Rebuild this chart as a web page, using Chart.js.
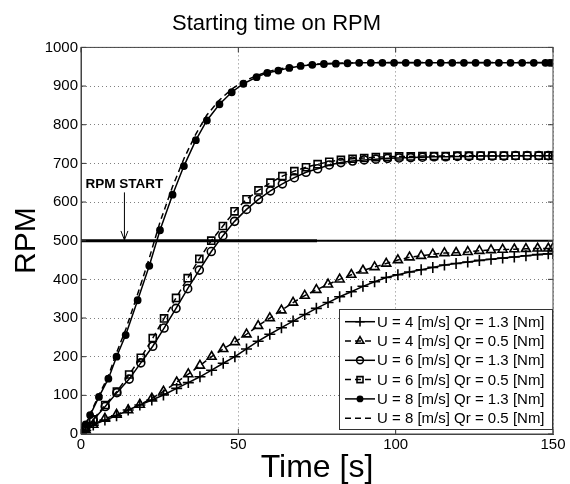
<!DOCTYPE html>
<html lang="en">
<head>
<meta charset="UTF-8">
<title>Starting time on RPM</title>
<style>
    html, body { margin: 0; padding: 0; background: #fff; }
    .chart-box { position: relative; width: 570px; height: 484px; }
</style>
</head>
<body>
<div class="chart-box"><canvas id="rpmChart"></canvas></div>
<script src="https://cdn.jsdelivr.net/npm/chart.js"></script>
<script>
// values (time in s, speed in RPM)
const timeU4 = [0, 1.5, 3.9, 7.6, 11.3, 15, 18.7, 22.5, 26.2, 30.4, 34.1, 37.8, 41.5, 45.2, 48.9, 52.6, 56.3, 60, 63.7, 67.4,
    71.1, 74.8, 78.5, 82.2, 85.9, 89.6, 93.3, 97, 100.7, 104.4, 108.1, 111.8, 115.5, 119.2, 122.9, 126.6, 130.3, 134, 137.7, 141.4,
    145.1, 148.5, 150];
const rpmU4Qr13 = [0, 9, 23, 36, 47, 62, 75, 88, 101, 118, 133, 148, 165, 183, 200, 220, 240, 258, 275, 292,
    309, 325, 340, 355, 368, 382, 394, 405, 412, 419, 425, 431, 437, 441, 445, 449, 452, 455, 458, 461,
    464, 466, 467];
const rpmU4Qr05 = [0, 10, 24, 40, 50, 62, 76, 92, 110, 134, 155, 177, 200, 220, 238, 258, 280, 300, 320, 340,
    358, 373, 387, 400, 412, 423, 432, 441, 450, 457, 461, 465, 468, 469, 471, 474, 476, 477, 478, 479,
    480, 480, 481];

const timeU6 = [0, 1.5, 3.9, 7.7, 11.4, 15.3, 19, 22.8, 26.4, 30.2, 33.9, 37.6, 41.4, 45.1, 48.8, 52.6, 56.4, 60.2, 64, 67.8,
    71.5, 75.2, 78.9, 82.6, 86.3, 90, 93.7, 97.4, 101.1, 104.8, 108.5, 112.2, 115.9, 119.6, 123.3, 127, 130.7, 134.4, 138.1, 141.8,
    145.5, 148.5, 150];
const rpmU6Qr13 = [0, 14, 36, 71, 107, 142, 184, 227, 274, 325, 376, 424, 472, 513, 550, 581, 607, 629, 647, 663,
    677, 686, 696, 702, 706, 709, 711, 713, 714, 715, 716, 717, 717, 718, 718, 719, 719, 719, 720, 720,
    720, 720, 720];
const rpmU6Qr05 = [0, 15, 38, 75, 110, 154, 197, 248, 299, 352, 403, 453, 500, 538, 576, 607, 630, 650, 667, 680,
    690, 698, 704, 709, 712, 714, 716, 717, 718, 718, 719, 719, 719, 720, 720, 720, 720, 720, 720, 720,
    720, 720, 720];

const timeU8 = [0, 1.5, 2.9, 5.7, 8.7, 11.3, 14.2, 18, 21.7, 25.1, 29.1, 32.7, 36.5, 40, 44, 47.9, 51.6, 55.8, 59.2, 62.7,
    66.2, 69.8, 73.5, 77.2, 81, 84.7, 88.4, 92.1, 95.8, 99.5, 103.2, 106.9, 110.6, 114.3, 118, 121.7, 125.4, 129.1, 132.8, 136.5,
    140.2, 143.9, 147.6, 149, 150];
const rpmU8Qr13 = [0, 25, 49, 96, 143, 200, 256, 346, 435, 527, 619, 693, 760, 811, 853, 884, 906, 923, 934, 940,
    947, 952, 955, 957, 958, 959, 960, 960, 960, 960, 960, 960, 960, 960, 960, 960, 960, 960, 960, 960,
    960, 960, 960, 960, 960];
const rpmU8Qr05 = [0, 26, 52, 101, 150, 210, 270, 362, 455, 548, 640, 712, 776, 825, 864, 892, 912, 927, 937, 944,
    949, 953, 956, 958, 959, 960, 961, 961, 961, 961, 961, 961, 961, 961, 961, 961, 961, 961, 961, 961,
    961, 961, 961, 961, 961];

const seriesLabels = [
    'U = 4 [m/s] Qr = 1.3 [Nm]',
    'U = 4 [m/s] Qr = 0.5 [Nm]',
    'U = 6 [m/s] Qr = 1.3 [Nm]',
    'U = 6 [m/s] Qr = 0.5 [Nm]',
    'U = 8 [m/s] Qr = 1.3 [Nm]',
    'U = 8 [m/s] Qr = 0.5 [Nm]'
];

// RPM START level: drawn heavy up to 75 s, lighter after
const rpmStart = 500;
const startTimesHeavy = [0, 75];
const startTimesLight = [75, 150];
const annotText = 'RPM START';
const annotTime = 13.8;
const annotTextRpm = 647;
const arrowFromRpm = 625;
const arrowToRpm = 502;

const xTicks = [0, 50, 100, 150];
const yTicks = [0, 100, 200, 300, 400, 500, 600, 700, 800, 900, 1000];

const FONT = '"Liberation Sans", Arial, Helvetica, sans-serif';
Chart.defaults.font.family = FONT;
Chart.defaults.color = '#000';

function pts(times, vals) {
    return times.map((t, i) => ({ x: t, y: vals[i] }));
}

const clear = 'rgba(0,0,0,0)';
const base = {
    showLine: true, borderColor: '#000', borderWidth: 1.5, tension: 0,
    pointBorderColor: '#000', pointBackgroundColor: clear, pointBorderWidth: 1.6, pointHoverRadius: 0
};

const datasets = [
    { ...base, label: seriesLabels[0], data: pts(timeU4, rpmU4Qr13), pointStyle: 'cross', pointRadius: 5.5 },
    { ...base, label: seriesLabels[1], data: pts(timeU4, rpmU4Qr05), borderDash: [6, 4], pointStyle: 'triangle', pointRadius: 5.2 },
    { ...base, label: seriesLabels[2], data: pts(timeU6, rpmU6Qr13), pointStyle: 'circle', pointRadius: 4 },
    { ...base, label: seriesLabels[3], data: pts(timeU6, rpmU6Qr05), borderDash: [6, 4], pointStyle: 'rect', pointRadius: 5 },
    { ...base, label: seriesLabels[4], data: pts(timeU8, rpmU8Qr13), pointStyle: 'circle', pointRadius: 3.1, pointBackgroundColor: '#000' },
    { ...base, label: seriesLabels[5], data: pts(timeU8, rpmU8Qr05), borderDash: [6, 4], pointRadius: 0 },
    { ...base, label: 'start', data: startTimesHeavy.map(t => ({ x: t, y: rpmStart })), borderWidth: 3, pointRadius: 0 },
    { ...base, label: 'start2', data: startTimesLight.map(t => ({ x: t, y: rpmStart })), borderWidth: 2, pointRadius: 0 }
];

// frame, inner ticks, annotation and in-plot legend
const plotFrame = {
    id: 'plotFrame',
    afterDraw(chart) {
        const { ctx, chartArea: a, scales: { x, y } } = chart;
        ctx.save();
        ctx.strokeStyle = '#333';
        ctx.lineWidth = 1;
        ctx.beginPath();
        yTicks.forEach(v => {
            const py = y.getPixelForValue(v);
            ctx.moveTo(a.left, py); ctx.lineTo(a.left + 5, py);
            ctx.moveTo(a.right, py); ctx.lineTo(a.right - 5, py);
        });
        xTicks.forEach(v => {
            const px = x.getPixelForValue(v);
            ctx.moveTo(px, a.bottom); ctx.lineTo(px, a.bottom - 5);
            ctx.moveTo(px, a.top); ctx.lineTo(px, a.top + 5);
        });
        ctx.stroke();
        ctx.strokeStyle = '#444';
        ctx.strokeRect(a.left, a.top, a.right - a.left, a.bottom - a.top);

        // RPM START annotation
        const ax = x.getPixelForValue(annotTime);
        ctx.fillStyle = '#000';
        ctx.font = 'bold 13.5px ' + FONT;
        ctx.textAlign = 'center';
        ctx.textBaseline = 'middle';
        ctx.fillText(annotText, ax, y.getPixelForValue(annotTextRpm));
        const y0 = y.getPixelForValue(arrowFromRpm), y1 = y.getPixelForValue(arrowToRpm);
        ctx.strokeStyle = '#000';
        ctx.lineWidth = 1;
        ctx.beginPath();
        ctx.moveTo(ax, y0); ctx.lineTo(ax, y1);
        ctx.moveTo(ax - 3.5, y1 - 9); ctx.lineTo(ax, y1); ctx.lineTo(ax + 3.5, y1 - 9);
        ctx.stroke();

        // legend box
        const lw = 214, lh = 121;
        const lx = a.right - lw, ly = a.bottom - 4 - lh;
        ctx.fillStyle = '#fff';
        ctx.fillRect(lx, ly, lw, lh);
        ctx.strokeStyle = '#333';
        ctx.strokeRect(lx + 0.5, ly + 0.5, lw - 1, lh - 1);
        ctx.font = '15px ' + FONT;
        ctx.textAlign = 'left';
        chart.data.datasets.slice(0, 6).forEach((ds, i) => {
            const cy = ly + 12.7 + i * 19.3;
            ctx.setLineDash(ds.borderDash || []);
            ctx.strokeStyle = ds.borderColor;
            ctx.lineWidth = ds.borderWidth;
            ctx.beginPath();
            ctx.moveTo(lx + 6, cy); ctx.lineTo(lx + 36, cy);
            ctx.stroke();
            ctx.setLineDash([]);
            if (ds.pointRadius > 0) {
                ctx.fillStyle = ds.pointBackgroundColor;
                ctx.strokeStyle = ds.pointBorderColor;
                ctx.lineWidth = ds.pointBorderWidth;
                Chart.helpers.drawPoint(ctx, {
                    pointStyle: ds.pointStyle, radius: ds.pointRadius * 0.85, rotation: 0, borderWidth: ds.pointBorderWidth
                }, lx + 21, cy);
            }
            ctx.fillStyle = '#000';
            ctx.fillText(ds.label, lx + 38, cy + 1);
        });
        ctx.restore();
    }
};

new Chart(document.getElementById('rpmChart'), {
    type: 'scatter',
    data: { datasets },
    options: {
        responsive: true,
        maintainAspectRatio: false,
        animation: false,
        layout: { padding: { left: 0, right: 17, top: 0, bottom: 0 } },
        plugins: {
            legend: { display: false },
            tooltip: { enabled: false },
            title: {
                display: true,
                text: 'Starting time on RPM',
                color: '#000',
                font: { size: 22, weight: 'normal', lineHeight: 1.2 },
                padding: { top: 11, bottom: 10 }
            }
        },
        scales: {
            x: {
                type: 'linear', min: 0, max: 150,
                afterBuildTicks: s => { s.ticks = xTicks.map(v => ({ value: v })); },
                afterFit: s => { s.height = 50; },
                ticks: { font: { size: 15 }, color: '#000', padding: 2, maxRotation: 0, callback: v => String(v) },
                grid: { color: '#808080', lineWidth: 1, drawTicks: false },
                border: { display: true, color: '#444', dash: [1, 3] },
                title: { display: true, text: 'Time [s]', color: '#000', font: { size: 32, lineHeight: 1 }, padding: 0 }
            },
            y: {
                type: 'linear', min: 0, max: 1000,
                afterBuildTicks: s => { s.ticks = yTicks.map(v => ({ value: v })); },
                afterFit: s => { s.width = 81; },
                ticks: { font: { size: 15 }, color: '#000', padding: 3, callback: v => String(v) },
                grid: { color: '#808080', lineWidth: 1, drawTicks: false },
                border: { display: true, color: '#444', dash: [1, 3] },
                title: { display: true, text: 'RPM', color: '#000', font: { size: 30, lineHeight: 1 }, padding: 12 }
            }
        }
    },
    plugins: [plotFrame]
});
</script>
</body>
</html>
